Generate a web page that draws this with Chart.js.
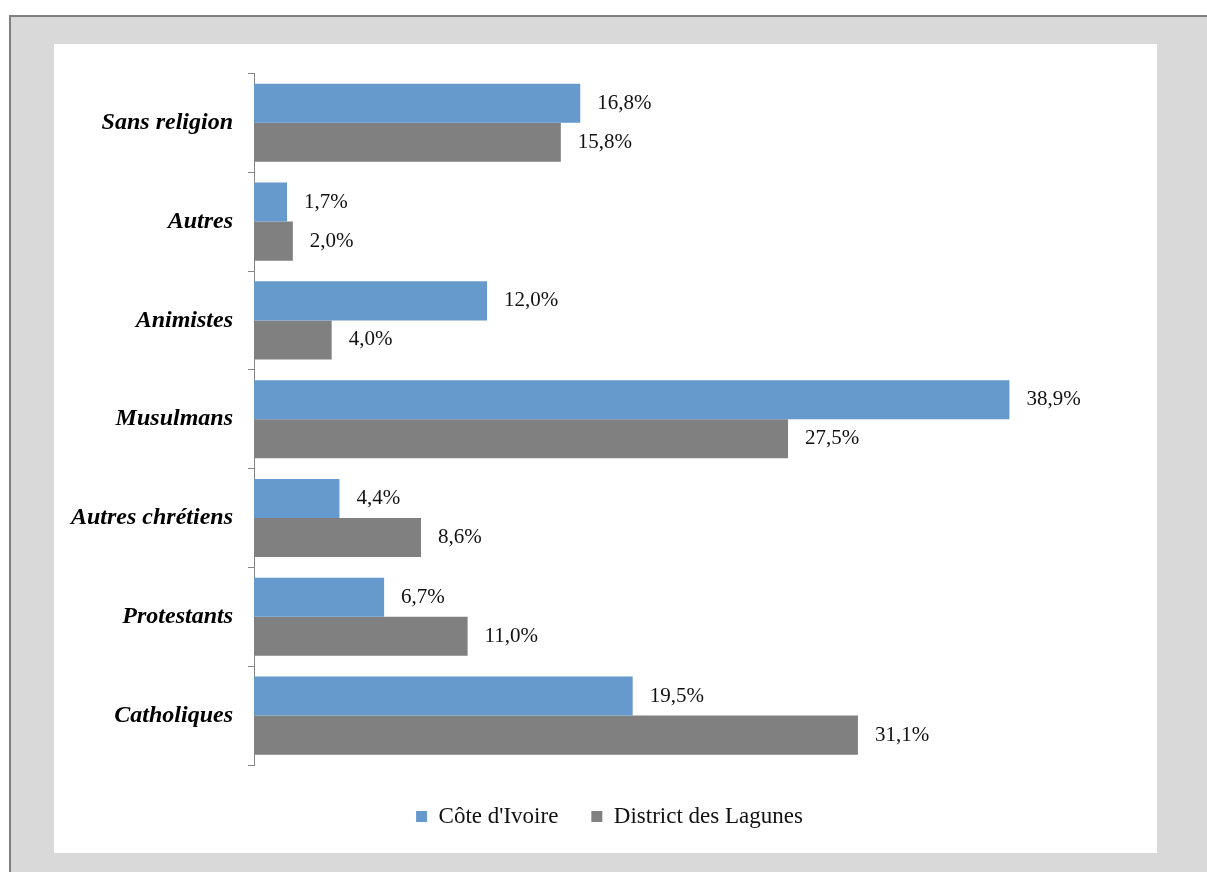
<!DOCTYPE html>
<html>
<head>
<meta charset="utf-8">
<script src="https://cdn.jsdelivr.net/npm/chart.js@4"></script>
<style>
  body { margin: 0; background: #fff; }
  #frame {
    position: absolute; left: 9px; top: 15px; width: 1198px; height: 857px;
    background: #d9d9d9; border-top: 2px solid #808080; border-left: 2px solid #808080;
  }
  #panel {
    position: absolute; left: 54px; top: 44px; width: 1103px; height: 809px; background: #fff;
  }
</style>
</head>
<body>
<div id="frame"></div>
<div id="panel"><canvas id="chart"></canvas></div>
<script>
const religions = ["Sans religion", "Autres", "Animistes", "Musulmans", "Autres chrétiens", "Protestants", "Catholiques"];
const coteIvoire = [16.8, 1.7, 12.0, 38.9, 4.4, 6.7, 19.5];
const lagunes = [15.8, 2.0, 4.0, 27.5, 8.6, 11.0, 31.1];

//Write the value next to the end of each bar
const valueLabels = {
  id: 'valueLabels',
  afterDatasetsDraw(chart) {
    const ctx = chart.ctx;
    ctx.save();
    ctx.font = '21px "Liberation Serif"';
    ctx.fillStyle = '#111';
    ctx.textAlign = 'left';
    ctx.textBaseline = 'middle';
    chart.data.datasets.forEach((ds, i) => {
      chart.getDatasetMeta(i).data.forEach((bar, j) => {
        const txt = ds.data[j].toFixed(1).replace('.', ',') + '%';
        ctx.fillText(txt, bar.x + 17, bar.y);
      });
    });
    ctx.restore();
  }
};

new Chart(document.getElementById('chart'), {
  type: 'bar',
  data: {
    labels: religions,
    datasets: [
      { label: "Côte d'Ivoire", data: coteIvoire, backgroundColor: '#6699cc' },
      { label: 'District des Lagunes', data: lagunes, backgroundColor: '#808080' }
    ]
  },
  options: {
    indexAxis: 'y',
    responsive: true,
    maintainAspectRatio: false,
    animation: false,
    datasets: { bar: { categoryPercentage: 0.79, barPercentage: 1 } },
    layout: { padding: { top: 29, left: 8, right: 0, bottom: 15 } },
    scales: {
      x: {
        min: 0, max: 46.5,
        ticks: { display: false },
        grid: { display: false },
        border: { display: false },
        afterFit: s => { s.height = 7; }
      },
      y: {
        afterFit: s => { s.width = 192; },
        border: { display: true, color: '#868686', width: 1 },
        grid: { drawOnChartArea: false, drawTicks: true, tickLength: 6, color: '#868686', offset: true },
        ticks: {
          padding: 15,
          color: '#000',
          font: { family: '"Liberation Serif"', size: 24, style: 'italic', weight: 'bold' }
        }
      }
    },
    plugins: {
      tooltip: { enabled: false },
      legend: {
        position: 'bottom',
        labels: {
          boxWidth: 11, boxHeight: 11, padding: 33,
          color: '#111',
          font: { family: '"Liberation Serif"', size: 23 }
        }
      }
    }
  },
  plugins: [valueLabels]
});
</script>
</body>
</html>
